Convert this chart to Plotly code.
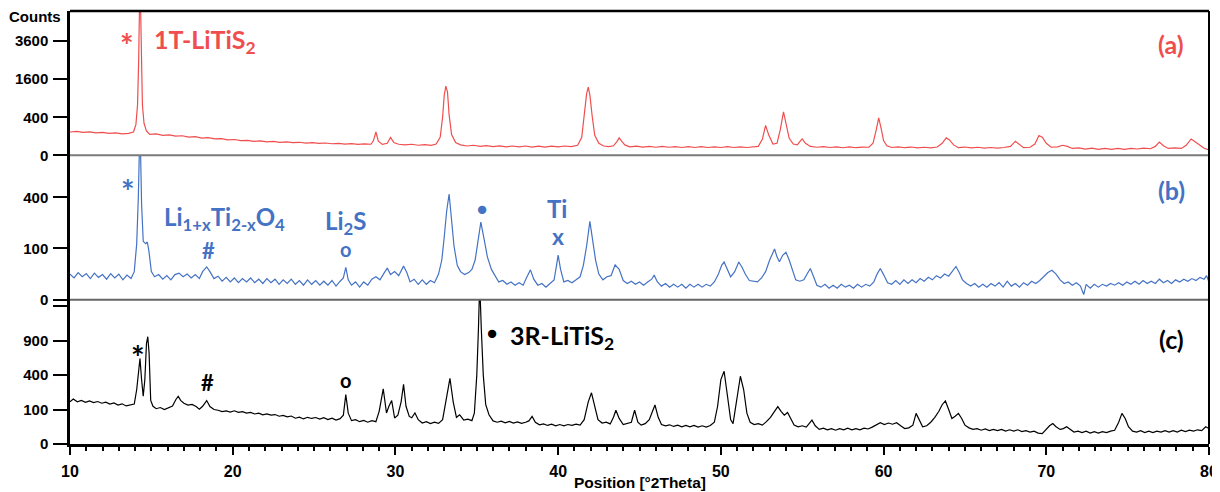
import numpy as np
import plotly.graph_objects as go
from plotly.subplots import make_subplots

# ---------------- data (2theta, counts) ----------------
red_pts = [(10.0,150),(10.4,158),(10.8,146),(11.2,152),(11.6,140),(12.0,146),(12.4,134),(12.8,140),(13.2,128),(13.6,134),(13.9,150),(14.05,260),(14.15,700),(14.22,2500),(14.3,9000),(14.38,2500),(14.45,700),(14.55,280),(14.7,165),(14.9,120),(15.3,126),(15.7,110),(16.1,116),(16.5,102),(16.9,106),(17.3,92),(17.7,96),(18.1,82),(18.5,86),(18.9,74),(19.3,77),(19.7,66),(20.1,69),(20.5,60),(20.9,62),(21.3,54),(21.7,57),(22.1,50),(22.5,53),(22.9,47),(23.3,50),(23.7,44),(24.1,47),(24.5,41),(24.9,44),(25.3,39),(25.7,42),(26.1,37),(26.5,40),(26.9,35),(27.3,38),(27.7,33),(28.1,36),(28.5,34),(28.65,60),(28.8,150),(28.95,55),(29.2,33),(29.5,40),(29.7,89),(29.9,45),(30.2,34),(30.6,30),(31.0,34),(31.4,28),(31.8,32),(32.2,27),(32.5,35),(32.75,90),(32.9,400),(33.0,1000),(33.1,1320),(33.2,1100),(33.3,450),(33.45,120),(33.7,45),(34.0,30),(34.4,24),(34.8,28),(35.2,22),(35.6,26),(36.0,21),(36.4,25),(36.8,20),(37.2,24),(37.6,20),(38.0,24),(38.4,19),(38.8,23),(39.2,19),(39.6,23),(40.0,20),(40.4,24),(40.8,21),(41.2,28),(41.45,90),(41.6,400),(41.75,1050),(41.85,1280),(41.95,1000),(42.1,400),(42.25,110),(42.5,40),(42.8,24),(43.1,21),(43.4,25),(43.6,50),(43.75,84),(43.9,55),(44.1,30),(44.4,20),(44.8,23),(45.2,19),(45.6,22),(46.0,18),(46.4,22),(46.8,18),(47.2,21),(47.6,17),(48.0,21),(48.4,17),(48.8,21),(49.2,17),(49.6,20),(50.0,17),(50.4,21),(50.8,17),(51.2,20),(51.6,17),(52.0,20),(52.3,22),(52.55,70),(52.75,248),(52.95,110),(53.2,35),(53.45,40),(53.65,180),(53.85,523),(54.0,300),(54.2,80),(54.45,35),(54.7,30),(54.9,60),(55.0,74),(55.2,40),(55.5,22),(55.9,18),(56.3,21),(56.7,17),(57.1,20),(57.5,16),(57.9,20),(58.3,16),(58.7,19),(59.1,18),(59.35,40),(59.55,180),(59.7,388),(59.85,200),(60.0,60),(60.2,25),(60.5,17),(60.9,20),(61.3,16),(61.7,19),(62.1,15),(62.5,18),(62.9,15),(63.3,19),(63.6,40),(63.85,84),(64.05,65),(64.3,30),(64.6,16),(65.0,19),(65.4,15),(65.8,18),(66.2,14),(66.6,17),(67.0,14),(67.4,17),(67.8,22),(68.1,55),(68.3,35),(68.6,16),(69.0,18),(69.3,35),(69.55,108),(69.75,90),(70.0,40),(70.3,18),(70.7,20),(71.0,28),(71.3,22),(71.6,13),(72.0,15),(72.4,11),(72.8,14),(73.2,10),(73.6,13),(74.0,10),(74.4,13),(74.8,10),(75.2,13),(75.6,11),(76.0,14),(76.4,12),(76.7,22),(76.95,48),(77.2,25),(77.5,13),(77.9,15),(78.3,13),(78.6,28),(78.9,74),(79.1,55),(79.4,30),(79.7,14),(80.0,8)]

blue_pts = [(10.0,25),(10.25,18),(10.5,28),(10.75,20),(11.0,26),(11.25,17),(11.5,27),(11.75,19),(12.0,24),(12.25,16),(12.5,26),(12.75,18),(13.0,25),(13.25,15),(13.5,23),(13.75,17),(13.95,30),(14.1,120),(14.2,400),(14.3,1200),(14.4,350),(14.5,130),(14.65,120),(14.75,127),(14.85,90),(15.0,30),(15.2,20),(15.45,24),(15.7,16),(15.95,22),(16.2,15),(16.45,24),(16.7,27),(16.95,20),(17.2,25),(17.45,18),(17.7,24),(17.95,17),(18.15,30),(18.4,41),(18.6,30),(18.85,17),(19.1,21),(19.35,13),(19.6,19),(19.85,12),(20.1,18),(20.35,11),(20.6,17),(20.85,12),(21.1,18),(21.35,11),(21.6,16),(21.85,10),(22.1,17),(22.35,11),(22.6,16),(22.85,9),(23.1,15),(23.35,10),(23.6,16),(23.85,9),(24.1,14),(24.35,8),(24.6,15),(24.85,9),(25.1,14),(25.35,8),(25.6,13),(25.85,8),(26.1,14),(26.35,7),(26.6,13),(26.8,18),(26.95,40),(27.1,15),(27.3,8),(27.55,12),(27.8,6),(28.05,12),(28.3,8),(28.55,16),(28.8,20),(29.05,15),(29.3,27),(29.5,38),(29.7,24),(29.95,30),(30.2,22),(30.5,43),(30.7,28),(30.9,12),(31.15,16),(31.4,9),(31.65,15),(31.9,9),(32.15,14),(32.4,11),(32.65,25),(32.85,60),(33.0,150),(33.15,300),(33.3,426),(33.45,250),(33.6,110),(33.8,45),(34.0,30),(34.25,24),(34.5,28),(34.7,35),(34.9,60),(35.05,120),(35.25,229),(35.45,140),(35.65,70),(35.9,35),(36.1,24),(36.35,12),(36.6,14),(36.85,9),(37.1,12),(37.35,8),(37.6,11),(37.85,8),(38.05,18),(38.3,34),(38.5,16),(38.75,8),(39.0,10),(39.25,6),(39.5,10),(39.75,15),(39.9,45),(40.0,76),(40.15,35),(40.35,12),(40.6,14),(40.85,11),(41.1,15),(41.35,20),(41.55,45),(41.75,110),(41.95,234),(42.1,150),(42.3,60),(42.5,25),(42.75,15),(43.0,20),(43.25,22),(43.5,46),(43.75,35),(44.0,14),(44.25,10),(44.5,13),(44.75,9),(45.0,12),(45.25,8),(45.5,12),(45.75,16),(45.9,23),(46.1,12),(46.35,7),(46.6,10),(46.85,6),(47.1,9),(47.35,6),(47.6,9),(47.85,5),(48.1,9),(48.35,6),(48.6,9),(48.85,6),(49.1,9),(49.35,7),(49.6,12),(49.85,25),(50.05,45),(50.2,54),(50.4,35),(50.6,20),(50.85,30),(51.1,54),(51.3,40),(51.5,25),(51.75,14),(52.0,13),(52.25,12),(52.5,18),(52.75,30),(53.0,60),(53.2,85),(53.3,98),(53.45,70),(53.6,55),(53.8,75),(54.0,86),(54.2,60),(54.4,35),(54.6,15),(54.85,13),(55.1,15),(55.3,25),(55.5,37),(55.7,20),(55.9,8),(56.15,6),(56.4,9),(56.65,5),(56.9,8),(57.15,5),(57.4,9),(57.65,6),(57.9,8),(58.15,5),(58.4,9),(58.65,6),(58.9,9),(59.15,7),(59.4,12),(59.6,25),(59.8,37),(60.0,24),(60.25,11),(60.5,9),(60.75,14),(61.0,9),(61.25,15),(61.5,10),(61.75,15),(62.0,11),(62.25,17),(62.5,13),(62.75,19),(63.0,15),(63.25,22),(63.5,18),(63.75,25),(64.0,21),(64.2,30),(64.45,42),(64.65,28),(64.85,15),(65.1,10),(65.35,7),(65.6,10),(65.85,6),(66.1,9),(66.35,6),(66.6,10),(66.85,7),(67.1,11),(67.35,6),(67.6,13),(67.85,7),(68.1,10),(68.35,6),(68.6,11),(68.85,8),(69.1,13),(69.35,10),(69.6,14),(69.85,20),(70.1,28),(70.35,33),(70.6,25),(70.85,15),(71.1,10),(71.35,12),(71.6,8),(71.85,11),(72.1,7),(72.3,1),(72.45,9),(72.7,5),(72.95,9),(73.2,6),(73.45,9),(73.7,7),(73.95,10),(74.2,8),(74.45,11),(74.7,8),(74.95,12),(75.2,9),(75.45,13),(75.7,9),(75.95,14),(76.2,10),(76.45,13),(76.7,10),(76.95,16),(77.2,11),(77.45,14),(77.7,10),(77.95,15),(78.2,12),(78.45,16),(78.7,13),(78.95,17),(79.2,14),(79.45,19),(79.7,16),(79.85,22),(80.0,12)]

black_pts = [(10.0,150),(10.2,170),(10.45,150),(10.7,160),(10.95,146),(11.2,156),(11.45,144),(11.7,152),(11.95,140),(12.2,148),(12.45,134),(12.7,142),(12.95,128),(13.2,136),(13.45,122),(13.7,130),(13.95,135),(14.1,250),(14.2,450),(14.3,616),(14.4,350),(14.5,192),(14.6,350),(14.7,850),(14.78,970),(14.86,700),(14.96,160),(15.1,120),(15.3,105),(15.55,112),(15.8,100),(16.05,110),(16.3,122),(16.5,165),(16.65,192),(16.8,160),(17.0,140),(17.25,128),(17.5,132),(17.75,118),(17.95,102),(18.15,120),(18.4,159),(18.6,118),(18.85,100),(19.1,96),(19.35,88),(19.6,92),(19.85,86),(20.1,93),(20.35,84),(20.6,88),(20.85,80),(21.1,84),(21.35,76),(21.6,80),(21.85,72),(22.1,76),(22.35,70),(22.6,73),(22.85,65),(23.1,69),(23.35,62),(23.6,66),(23.85,56),(24.1,61),(24.35,53),(24.6,60),(24.85,55),(25.1,59),(25.35,52),(25.6,58),(25.85,50),(26.1,56),(26.35,48),(26.6,54),(26.8,70),(26.95,206),(27.1,80),(27.3,46),(27.55,50),(27.8,42),(28.05,47),(28.3,40),(28.55,46),(28.8,42),(29.0,90),(29.25,257),(29.45,81),(29.6,120),(29.77,159),(29.95,57),(30.15,70),(30.35,150),(30.5,300),(30.65,120),(30.85,64),(31.0,58),(31.2,81),(31.4,50),(31.65,37),(31.9,42),(32.15,35),(32.4,40),(32.65,36),(32.9,50),(33.1,150),(33.35,364),(33.55,150),(33.75,60),(33.95,72),(34.2,48),(34.45,52),(34.7,46),(34.85,80),(35.0,400),(35.1,1100),(35.18,2200),(35.28,1100),(35.4,400),(35.55,130),(35.75,72),(36.0,45),(36.25,40),(36.5,44),(36.75,38),(37.0,43),(37.25,37),(37.5,41),(37.75,36),(38.0,40),(38.2,45),(38.4,64),(38.6,40),(38.85,31),(39.1,34),(39.35,29),(39.6,33),(39.85,28),(40.1,32),(40.35,28),(40.6,32),(40.85,29),(41.1,33),(41.35,30),(41.6,50),(41.85,150),(42.05,221),(42.25,120),(42.45,50),(42.7,37),(42.95,40),(43.2,34),(43.4,60),(43.55,96),(43.75,55),(44.0,32),(44.25,35),(44.5,40),(44.7,96),(44.9,40),(45.1,30),(45.35,35),(45.6,50),(45.8,90),(45.95,128),(46.15,60),(46.35,32),(46.6,28),(46.85,31),(47.1,26),(47.35,30),(47.6,25),(47.85,29),(48.1,25),(48.35,29),(48.6,24),(48.85,28),(49.1,24),(49.35,29),(49.6,40),(49.8,120),(50.0,350),(50.2,446),(50.4,200),(50.6,50),(50.75,35),(50.95,150),(51.2,387),(51.4,250),(51.6,80),(51.8,40),(52.05,32),(52.3,35),(52.55,30),(52.8,42),(53.05,60),(53.3,90),(53.5,118),(53.7,90),(53.9,70),(54.1,84),(54.3,55),(54.5,30),(54.75,25),(55.0,28),(55.25,24),(55.45,38),(55.6,48),(55.8,28),(56.05,18),(56.3,21),(56.55,17),(56.8,20),(57.05,16),(57.3,20),(57.55,17),(57.8,21),(58.05,17),(58.3,20),(58.55,17),(58.8,21),(59.05,19),(59.3,24),(59.55,30),(59.8,38),(60.05,32),(60.3,37),(60.55,33),(60.8,38),(61.05,28),(61.3,20),(61.55,22),(61.8,30),(62.0,79),(62.2,45),(62.4,25),(62.65,28),(62.9,40),(63.15,60),(63.4,90),(63.6,130),(63.8,156),(64.0,100),(64.2,55),(64.4,65),(64.6,79),(64.8,55),(65.0,30),(65.25,22),(65.5,18),(65.75,20),(66.0,16),(66.25,19),(66.5,15),(66.75,18),(67.0,15),(67.25,18),(67.5,14),(67.75,17),(68.0,14),(68.25,17),(68.5,13),(68.75,15),(69.0,12),(69.25,14),(69.5,10),(69.75,9),(70.0,18),(70.2,28),(70.4,35),(70.6,25),(70.85,18),(71.05,20),(71.25,25),(71.45,18),(71.7,12),(71.95,14),(72.2,11),(72.45,14),(72.7,10),(72.95,13),(73.2,10),(73.45,13),(73.7,11),(73.95,14),(74.2,16),(74.45,40),(74.65,79),(74.85,55),(75.05,25),(75.3,14),(75.55,12),(75.8,15),(76.05,11),(76.3,14),(76.55,11),(76.8,14),(77.05,12),(77.3,15),(77.55,12),(77.8,15),(78.05,12),(78.3,16),(78.55,13),(78.8,16),(79.05,14),(79.3,17),(79.55,15),(79.8,25),(80.0,20)]

ticks_a = [0, 400, 1600, 3600]
ticks_b = [0, 100, 400]
ticks_c = [0, 100, 400, 900, 1600]
labels_c = ["0", "100", "400", "900", ""]
x_ticks = [10, 20, 30, 40, 50, 60, 70, 80]

RED = "#F04E4E"
BLUE = "#4472C4"
BLACK = "#000000"

fig = make_subplots(rows=3, cols=1, shared_xaxes=True, vertical_spacing=0)

for row, pts, col in [(1, red_pts, RED), (2, blue_pts, BLUE), (3, black_pts, BLACK)]:
    tt, cnt = zip(*pts)
    fig.add_trace(go.Scatter(x=list(tt), y=np.sqrt(np.array(cnt, dtype=float)), mode="lines",
                             line=dict(color=col, width=1.2), showlegend=False, hoverinfo="skip"),
                  row=row, col=1)

tickfont = dict(family="Liberation Sans, Arial", size=15, color="black", weight="bold")
yax_common = dict(showgrid=False, zeroline=False, showline=True, linecolor="black", linewidth=2.5,
                  ticks="outside", ticklen=14, tickwidth=1.5, tickcolor="black", tickfont=tickfont,
                  ticklabelstandoff=2, automargin=False)

fig.update_yaxes(row=1, col=1, range=[0, 75.8], tickvals=np.sqrt(ticks_a), ticktext=[str(t) for t in ticks_a], **yax_common)
fig.update_yaxes(row=2, col=1, range=[0, 28.2], tickvals=np.sqrt(ticks_b), ticktext=[str(t) for t in ticks_b], **yax_common)
fig.update_yaxes(row=3, col=1, range=[0, 41.9], tickvals=np.sqrt(ticks_c), ticktext=labels_c, **yax_common)

fig.update_xaxes(range=[10, 80], showgrid=False, zeroline=False, automargin=False)
fig.update_xaxes(row=1, col=1, showticklabels=False, ticks="", showline=False)
fig.update_xaxes(row=2, col=1, showticklabels=False, ticks="", showline=False)
fig.update_xaxes(row=3, col=1, showline=True, linecolor="black", linewidth=2.5,
                 tickvals=x_ticks, ticks="outside", ticklen=8, tickwidth=2, tickcolor="black",
                 tickfont=dict(family="Liberation Sans, Arial", size=16, color="black", weight="bold"),
                 ticklabelstandoff=3,
                 minor=dict(ticks="outside", dtick=1, ticklen=4, tickwidth=1.5, tickcolor="black"))

shapes = [
    dict(type="line", xref="paper", yref="paper", x0=0, x1=1, y0=1, y1=1, line=dict(color="black", width=2.5), layer="above"),
    dict(type="line", xref="paper", yref="paper", x0=0, x1=1, y0=2/3, y1=2/3, line=dict(color="#7a7a7a", width=2), layer="above"),
    dict(type="line", xref="paper", yref="paper", x0=0, x1=1, y0=1/3, y1=1/3, line=dict(color="#666666", width=2), layer="above"),
    dict(type="line", xref="paper", yref="paper", x0=1, x1=1, y0=0, y1=1, line=dict(color="black", width=2), layer="above"),
]

LAT = "Lato, Open Sans, sans-serif"

def ann(text, x, y, xr, yr, color, size, xanchor="center"):
    return dict(text=text, x=x, y=y, xref=xr, yref=yr, showarrow=False, xanchor=xanchor, yanchor="middle",
                font=dict(family=LAT, size=size, color=color))

annotations = [
    # panel a
    ann("<b>*</b>", 13.5, 57.5, "x", "y", RED, 32),
    ann("<b>1T-LiTiS<sub>2</sub></b>", 15.04, 60.0, "x", "y", RED, 25, "left"),
    ann("<b>(a)</b>", 77.67, 58.7, "x", "y", RED, 25),
    # panel b
    ann("<b>*</b>", 13.56, 21.2, "x2", "y2", BLUE, 32),
    ann("<b>Li<sub>1+x</sub>Ti<sub>2-x</sub>O<sub>4</sub></b>", 15.67, 15.9, "x2", "y2", BLUE, 24, "left"),
    ann("<b>#</b>", 18.54, 9.7, "x2", "y2", BLUE, 22),
    ann("<b>Li<sub>2</sub>S</b>", 26.93, 15.1, "x2", "y2", BLUE, 24),
    ann("<b>o</b>", 26.96, 9.9, "x2", "y2", BLUE, 20),
    ann("●", 35.32, 17.9, "x2", "y2", BLUE, 17),
    ann("<b>Ti</b>", 39.93, 17.9, "x2", "y2", BLUE, 24),
    ann("<b>x</b>", 40.0, 12.4, "x2", "y2", BLUE, 23),
    ann("<b>(b)</b>", 77.67, 21.4, "x2", "y2", BLUE, 25),
    # panel c
    ann("<b>*</b>", 14.18, 25.2, "x3", "y3", BLACK, 32),
    ann("<b>#</b>", 18.48, 17.8, "x3", "y3", BLACK, 22),
    ann("<b>o</b>", 26.96, 18.6, "x3", "y3", BLACK, 20),
    ann("●", 35.94, 32.3, "x3", "y3", BLACK, 17),
    ann("<b>3R-LiTiS<sub>2</sub></b>", 36.92, 31.2, "x3", "y3", BLACK, 25, "left"),
    ann("<b>(c)</b>", 77.67, 30.4, "x3", "y3", BLACK, 25),
    # axis labels
    dict(text="<b>Counts</b>", x=-0.0307, y=0.988, xref="paper", yref="paper", showarrow=False,
         xanchor="center", yanchor="middle", font=dict(family="Liberation Sans, Arial", size=15, color="black")),
    dict(text="<b>Position [°2Theta]</b>", x=0.5, y=-0.09, xref="paper", yref="paper", showarrow=False,
         xanchor="center", yanchor="middle", font=dict(family="Liberation Sans, Arial", size=15.5, color="black")),
]

# the page body adds an 8 px offset; margins compensate so the plot area lands at 70..1209 x 11..444
fig.update_layout(width=1212, height=484, margin=dict(l=62, r=11, t=3, b=48, autoexpand=False),
                  paper_bgcolor="white", plot_bgcolor="white",
                  shapes=shapes, annotations=annotations, showlegend=False)

fig.write_html("out.html")
